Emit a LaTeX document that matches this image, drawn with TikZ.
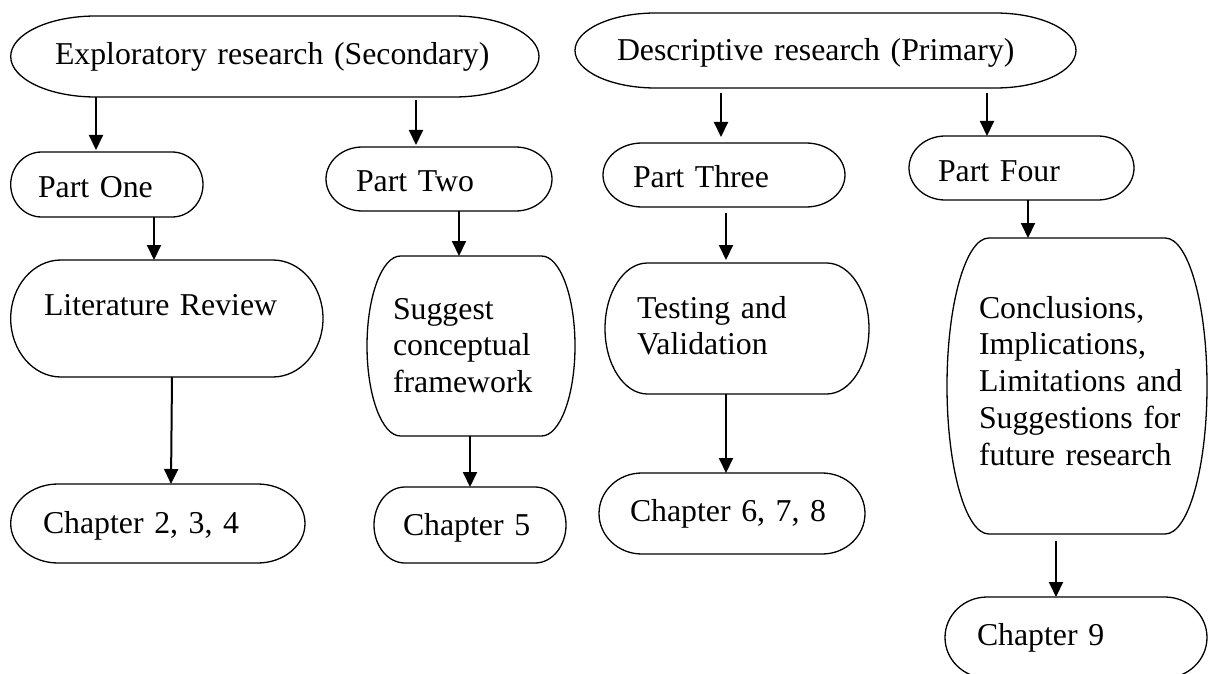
\documentclass[tikz,border=0pt]{standalone}
\usepackage{fontspec}
\setmainfont{Liberation Serif}
\usetikzlibrary{arrows.meta,calc}

% Outline of a flowchart terminator: straight top and bottom, elliptical ends
\newcommand\termoutline[1]{%
  \draw[outline] let \p1=(#1.north west), \p2=(#1.south east),
      \n1={0.1609*(\x2-\x1)}, \n2={(\y1-\y2)/2} in
    (\x1+\n1,\y1) -- (\x2-\n1,\y1)
    arc[start angle=90, end angle=-90, x radius=\n1, y radius=\n2]
    -- (\x1+\n1,\y2)
    arc[start angle=270, end angle=90, x radius=\n1, y radius=\n2]
    -- cycle;}

\begin{document}
\begin{tikzpicture}[x=1pt,y=-1pt,
  box/.style={draw=none, shape=rectangle, inner xsep=0pt, inner ysep=0pt,
    outer sep=0pt, align=left, font=\fontsize{31.8pt}{36.8pt}\selectfont},
  outline/.style={line width=1.3pt, line join=round},
  conn/.style={line width=2pt, -{Triangle[length=15pt,width=14pt]}}]

\fill[white] (0,0) rectangle (1208,674);
\useasboundingbox (0,0) rectangle (1208,674);
\clip (0,0) rectangle (1208,674);

% top level
\node[box, minimum width=528.3pt, minimum height=81pt, text width=439.7pt,
      text height=17pt, text depth=0pt] (expl) at (274.85,56.5)
  {Exploratory~research~(Secondary)};
\node[box, minimum width=501pt, minimum height=75pt, text width=417pt,
      text height=21pt, text depth=0pt] (desc) at (825.5,50.5)
  {Descriptive~research~(Primary)};

% parts
\node[box, minimum width=192.3pt, minimum height=65pt, text width=137.7pt,
      text height=25pt, text depth=0pt] (p1) at (106.85,184.5) {Part~One};
\node[box, minimum width=226pt, minimum height=64pt, text width=166pt,
      text height=26pt, text depth=0pt] (p2) at (439,179) {Part~Two};
\node[box, minimum width=242pt, minimum height=64pt, text width=182pt,
      text height=26pt, text depth=0pt] (p3) at (724,175) {Part~Three};
\node[box, minimum width=225pt, minimum height=64pt, text width=167pt,
      text height=28pt, text depth=0pt] (p4) at (1021.5,168) {Part~Four};

% contents
\node[box, minimum width=312.3pt, minimum height=117pt, text width=245.7pt,
      text height=0pt, text depth=7pt] (lit) at (166.85,318.5)
  {Literature~Review};
\node[box, minimum width=208pt, minimum height=180pt, text width=156pt,
      text height=0pt, text depth=54pt] (sug) at (471,346)
  {Suggest\\conceptual\\framework};
\node[box, minimum width=264pt, minimum height=131pt, text width=200pt,
      text height=0pt, text depth=21pt] (test) at (737,328.5)
  {Testing~and\\Validation};
\node[box, minimum width=260pt, minimum height=296pt, text width=196pt,
      text height=0pt, text depth=136pt] (concl) at (1077,386)
  {Conclusions,\\Implications,\\Limitations~and\\Suggestions~for\\future~research};

% chapters
\node[box, minimum width=294.3pt, minimum height=79pt, text width=229.7pt,
      text height=19pt, text depth=0pt] (ch234) at (157.85,523.5)
  {Chapter~2,~3,~4};
\node[box, minimum width=192pt, minimum height=76pt, text width=134pt,
      text height=20pt, text depth=0pt] (ch5) at (470,525) {Chapter~5};
\node[box, minimum width=266pt, minimum height=81pt, text width=204pt,
      text height=15pt, text depth=0pt] (ch678) at (732,513.5)
  {Chapter~6,~7,~8};
\node[box, minimum width=262pt, minimum height=81pt, text width=198pt,
      text height=15pt, text depth=0pt] (ch9) at (1076,637.5) {Chapter~9};

\foreach \b in {expl,desc,p1,p2,p3,p4,lit,sug,test,concl,ch234,ch5,ch678,ch9}
  {\termoutline{\b}}

% connectors
\draw[conn, shorten >=2pt] (expl.south -| 96,0) -- (p1.north -| 96,0);
\draw[conn, shorten <=3pt, shorten >=2pt] (expl.south -| 416,0) -- (p2.north -| 416,0);
\draw[conn, shorten <=5pt, shorten >=6pt] (desc.south -| 721,0) -- (p3.north -| 721,0);
\draw[conn, shorten <=5pt] (desc.south -| 987,0) -- (p4.north -| 987,0);
\draw[conn] (p1.south -| 154,0) -- (lit.north -| 154,0);
\draw[conn] (p2.south -| 459,0) -- (sug.north -| 459,0);
\draw[conn, shorten <=6pt, shorten >=3pt] (p3.south -| 726,0) -- (test.north -| 726,0);
\draw[conn] (p4.south -| 1028,0) -- (concl.north -| 1028,0);
\draw[conn] (lit.south -| 172,0) -- (ch234.north -| 171,0);
\draw[conn] (sug.south -| 470,0) -- (ch5.north -| 470,0);
\draw[conn] (test.south -| 726,0) -- (ch678.north -| 726,0);
\draw[conn, shorten <=7pt] (concl.south -| 1056,0) -- (ch9.north -| 1056,0);

\end{tikzpicture}
\end{document}
